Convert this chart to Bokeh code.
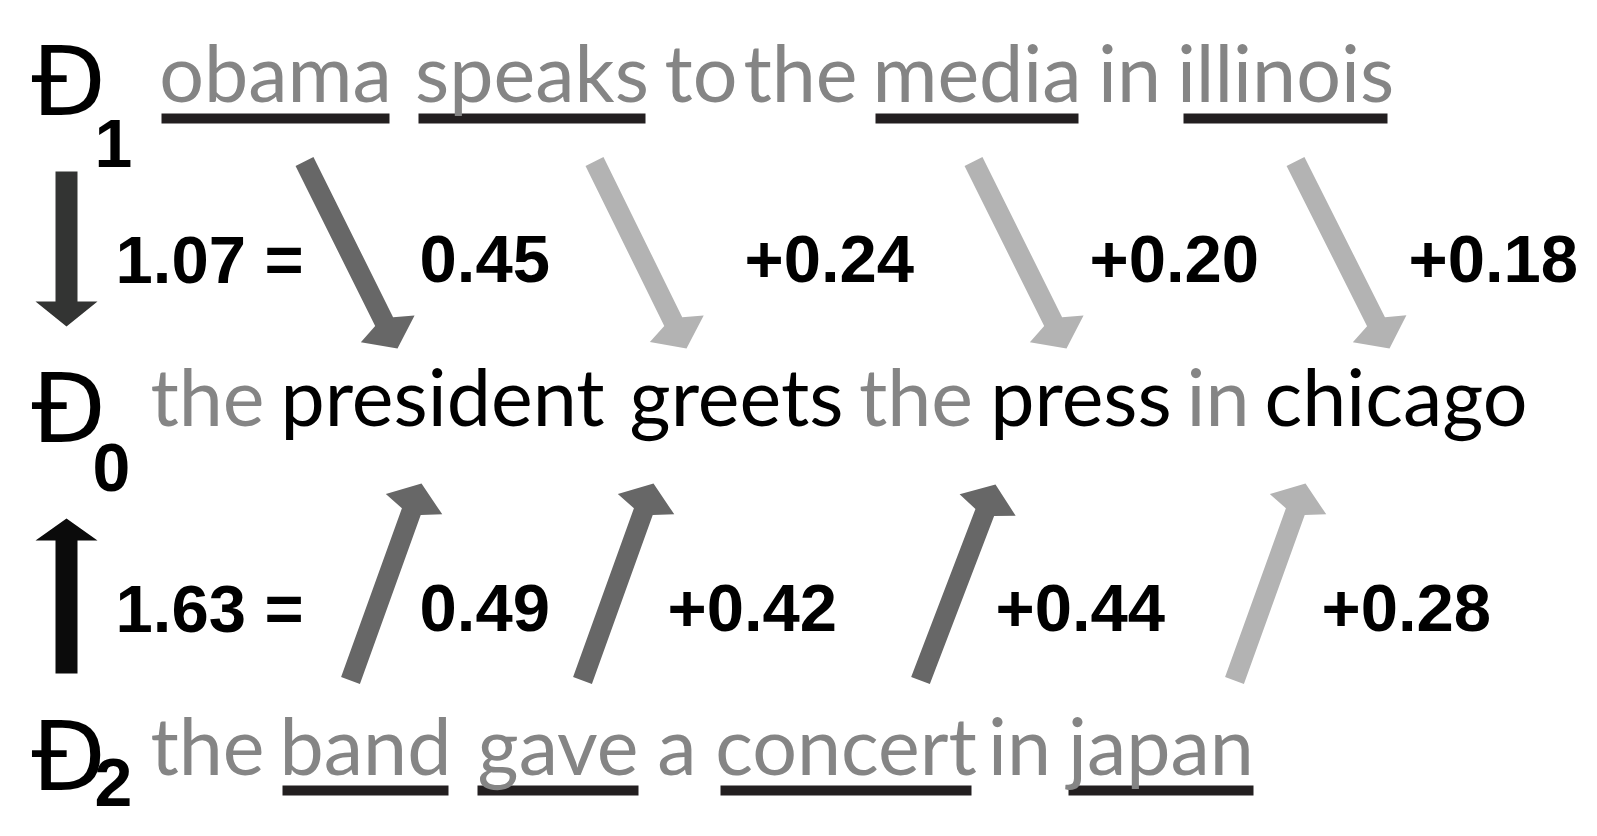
import math
from bokeh.plotting import figure
from bokeh.models import Range1d, ColumnDataSource
from bokeh.core.properties import value
from bokeh.embed import file_html
from bokeh.resources import INLINE

# ---------------- data ----------------
d0_words = ["the", "president", "greets", "the", "press", "in", "chicago"]
d0_stopword = [True, False, False, True, False, True, False]
d1_words = ["obama", "speaks", "to", "the", "media", "in", "illinois"]
d1_underlined = [True, True, False, False, True, False, True]
d2_words = ["the", "band", "gave", "a", "concert", "in", "japan"]
d2_underlined = [False, True, True, False, True, False, True]

d1_total = 1.07
d1_parts = [0.45, 0.24, 0.20, 0.18]
d2_total = 1.63
d2_parts = [0.49, 0.42, 0.44, 0.28]

doc_labels = ["Đ", "Đ", "Đ"]
doc_index = ["1", "0", "2"]

# ---------------- layout (reference pixel space) ----------------
row_baseline = {"d1": 102, "d0": 426, "d2": 775}
# horizontal extents of each word (left, right)
d1_ext = [(161, 389), (418, 645), (671, 730), (752, 848), (875, 1078), (1107, 1151), (1183, 1387)]
d0_ext = [(160, 254), (283, 601), (629, 843), (866, 965), (993, 1168), (1196, 1239), (1266, 1525)]
d2_ext = [(160, 254), (282, 448), (477, 638), (662, 691), (720, 971), (998, 1040), (1068, 1253)]
under_y = {"d1": (113, 123), "d2": (785, 795)}

num_x_row1 = [115, 419, 744, 1089, 1408]
num_x_row2 = [115, 419, 667, 995, 1321]
num_base = [282, 631]

doc_x = [31, 31, 31]
doc_base = [115, 442, 790]
sub_x = [94, 92, 94]
sub_base = [167, 491, 806]

down_tails = [(304, 161), (594, 161), (973, 161), (1295, 161)]
down_tips = [(397, 348), (686, 348), (1066, 348), (1389, 348)]
up_tails = [(350, 680), (582, 680), (920, 680), (1234, 680)]
up_tips = [(421, 483), (653, 483), (995, 484), (1305, 483)]

GRAY_TEXT = "#858585"
DARK_ARROW = "#676767"
LIGHT_ARROW = "#b3b3b3"
UNDER = "#231f20"

# vertical correction of the text baseline (fraction of font size): (ascent-descent)/2
K_LATO = 0.387
K_LIB = 0.347
K_DEJAVU = 0.346

W, H = 1581, 820
p = figure(width=W, height=H, output_backend="svg", toolbar_location=None,
           x_range=Range1d(0, W), y_range=Range1d(H, 0),
           x_axis_type=None, y_axis_type=None, min_border=0)
p.grid.visible = False
p.outline_line_color = None
p.background_fill_color = "white"
p.border_fill_color = "white"


def arrow_poly(tail, tip, sw, hl, hw, notch):
    sx, sy = tail
    tx, ty = tip
    dx, dy = tx - sx, ty - sy
    L = math.hypot(dx, dy)
    ux, uy = dx / L, dy / L
    nx, ny = -uy, ux
    xs = [tx,
          tx - hl * ux + hw * nx,
          tx - (hl + notch) * ux + sw * nx,
          sx + sw * nx,
          sx - sw * nx,
          tx - (hl + notch) * ux - sw * nx,
          tx - hl * ux - hw * nx]
    ys = [ty,
          ty - hl * uy + hw * ny,
          ty - (hl + notch) * uy + sw * ny,
          sy + sw * ny,
          sy - sw * ny,
          ty - (hl + notch) * uy - sw * ny,
          ty - hl * uy - hw * ny]
    return xs, ys


# ---------- flow arrows ----------
axs, ays, acol = [], [], []
for tails, tips, parts in [(down_tails, down_tips, d1_parts), (up_tails, up_tips, d2_parts)]:
    for t, tp, v in zip(tails, tips, parts):
        xs, ys = arrow_poly(t, tp, 10, 22, 30, 8)
        axs.append(xs)
        ays.append(ys)
        acol.append(DARK_ARROW if v >= 0.4 else LIGHT_ARROW)
p.patches(xs=axs, ys=ays, fill_color=acol, line_color=None)

# ---------- big side arrows ----------
bx, by = arrow_poly((66, 171), (66, 326), 11, 25, 31, 0)
p.patch(bx, by, fill_color="#333433", line_color=None)
bx, by = arrow_poly((66, 673), (66, 518), 11, 22, 31, 0)
p.patch(bx, by, fill_color="#0b0b0b", line_color=None)

# ---------- underlines ----------
ql, qr, qt, qb = [], [], [], []
for key, ext, flags in [("d1", d1_ext, d1_underlined), ("d2", d2_ext, d2_underlined)]:
    for e, f in zip(ext, flags):
        if f:
            ql.append(e[0]); qr.append(e[1])
            qt.append(under_y[key][0]); qb.append(under_y[key][1])
p.quad(left=ql, right=qr, top=qt, bottom=qb, fill_color=UNDER, line_color=None)

# ---------- sentence words ----------
WORD_SIZE = 79
wx, wy, wt, wc = [], [], [], []
for w, e in zip(d1_words, d1_ext):
    wx.append((e[0] + e[1]) / 2); wy.append(row_baseline["d1"]); wt.append(w); wc.append(GRAY_TEXT)
for w, e, s in zip(d0_words, d0_ext, d0_stopword):
    wx.append((e[0] + e[1]) / 2); wy.append(row_baseline["d0"]); wt.append(w)
    wc.append(GRAY_TEXT if s else "black")
for w, e in zip(d2_words, d2_ext):
    wx.append((e[0] + e[1]) / 2); wy.append(row_baseline["d2"]); wt.append(w); wc.append(GRAY_TEXT)
wy = [y - K_LATO * WORD_SIZE for y in wy]
src = ColumnDataSource(dict(x=wx, y=wy, text=wt, color=wc))
p.text(x="x", y="y", text="text", text_color="color", source=src,
       text_font=value("Lato"), text_font_size=value(f"{WORD_SIZE}px"),
       text_baseline="alphabetic", text_align="center")

# ---------- document symbols ----------
D_SIZE = 96
p.text(x=doc_x, y=[b - K_DEJAVU * D_SIZE for b in doc_base], text=doc_labels,
       text_color="black", text_font=value("DejaVu Sans"), text_font_size=value(f"{D_SIZE}px"),
       text_baseline="alphabetic", text_align="left")
SUB_SIZE = 68
p.text(x=sub_x, y=[b - K_LIB * SUB_SIZE for b in sub_base], text=doc_index,
       text_color="black", text_font=value("Liberation Sans"), text_font_style="bold",
       text_font_size=value(f"{SUB_SIZE}px"), text_baseline="alphabetic", text_align="left")

# ---------- numbers ----------
def labels(total, parts):
    out = [f"{total:.2f} ="]
    for i, v in enumerate(parts):
        out.append(f"{v:.2f}" if i == 0 else f"+{v:.2f}")
    return out

NUM_SIZE = 67
nx_all = num_x_row1 + num_x_row2
ny_all = [num_base[0] - K_LIB * NUM_SIZE] * 5 + [num_base[1] - K_LIB * NUM_SIZE] * 5
nt_all = labels(d1_total, d1_parts) + labels(d2_total, d2_parts)
p.text(x=nx_all, y=ny_all, text=nt_all, text_color="black",
       text_font=value("Liberation Sans"), text_font_style="bold",
       text_font_size=value(f"{NUM_SIZE}px"), text_baseline="alphabetic", text_align="left")

open("out.html", "w").write(file_html(p, INLINE))
